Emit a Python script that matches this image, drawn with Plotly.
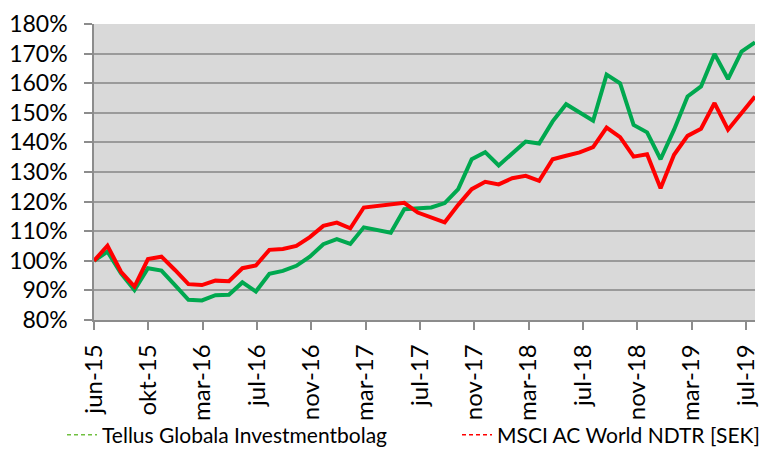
import plotly.graph_objects as go

# ---- data (index of monthly observation, value in %) ----
tellus = [100.0, 103.1, 95.8, 90.1, 97.5, 96.7, 91.8, 86.8, 86.6, 88.4,
          88.5, 92.7, 89.6, 95.6, 96.6, 98.3, 101.4, 105.6, 107.3, 105.7,
          111.3, 110.4, 109.5, 117.4, 117.6, 118.0, 119.5, 124.2, 134.3, 136.7,
          132.2, 136.4, 140.3, 139.6, 147.1, 152.9, 150.1, 147.3, 162.9, 160.0,
          145.9, 143.4, 134.3, 144.3, 155.5, 158.9, 169.9, 161.4, 170.7, 173.8]
msci = [100.0, 105.1, 96.3, 91.3, 100.6, 101.4, 96.9, 92.1, 91.8, 93.3,
        93.1, 97.5, 98.4, 103.7, 104.0, 105.0, 108.0, 111.8, 112.9, 111.0,
        118.0, 118.6, 119.1, 119.6, 116.3, 114.5, 113.0, 118.9, 124.2, 126.7,
        125.8, 127.9, 128.7, 127.0, 134.3, 135.5, 136.6, 138.4, 145.0, 141.8,
        135.2, 136.0, 124.5, 135.8, 142.2, 144.6, 153.3, 144.3, 149.9, 155.5]
tick_labels = ["jun-15", "okt-15", "mar-16", "jul-16", "nov-16", "mar-17", "jul-17",
               "nov-17", "mar-18", "jul-18", "nov-18", "mar-19", "jul-19"]
series_names = ["Tellus Globala Investmentbolag", "MSCI AC World NDTR [SEK]"]

x = list(range(len(tellus)))
TICK_STEP = 4.0274
tickvals = [k * TICK_STEP for k in range(len(tick_labels))]

FONT = "Lato, 'Open Sans', sans-serif"

fig = go.Figure()
fig.add_trace(go.Scatter(x=x, y=tellus, mode="lines", showlegend=False,
                         line=dict(color="#00a84f", width=4)))
fig.add_trace(go.Scatter(x=x, y=msci, mode="lines", showlegend=False,
                         line=dict(color="#ff0000", width=4)))
# legend entries (dashed thin symbols)
fig.add_trace(go.Scatter(x=[None], y=[None], mode="lines", name=series_names[0],
                         legend="legend",
                         line=dict(color="#70c040", width=1.5, dash="4px,3px")))
fig.add_trace(go.Scatter(x=[None], y=[None], mode="lines", name=series_names[1],
                         legend="legend2",
                         line=dict(color="#ff0000", width=1.5, dash="4px,3px")))

leg_common = dict(orientation="h", yanchor="top", y=-0.32, xanchor="left",
                  font=dict(size=21, family=FONT), itemwidth=30,
                  bgcolor="rgba(0,0,0,0)")

fig.update_layout(
    width=760, height=450,
    margin=dict(l=94, r=5, t=24, b=130, autoexpand=False),
    paper_bgcolor="white",
    plot_bgcolor="#d9d9d9",
    font=dict(family=FONT, color="#000000"),
    legend=dict(x=-0.0484, **leg_common),
    legend2=dict(x=0.5492, **leg_common),
)
fig.update_xaxes(
    range=[0, len(tellus) - 1], tickmode="array", tickvals=tickvals, ticktext=tick_labels,
    tickangle=-90, tickfont=dict(size=24, family=FONT), automargin=False,
    showgrid=False, zeroline=False, showline=True, linecolor="#8c8c8c", linewidth=1.5,
    ticks="outside", ticklen=8, tickcolor="#8c8c8c", tickwidth=1.5, ticklabelstandoff=5,
)
fig.update_yaxes(
    range=[80, 180], tickmode="linear", tick0=80, dtick=10, ticksuffix="%",
    tickfont=dict(size=23, family=FONT), automargin=False,
    showgrid=True, gridcolor="#9a9a9a", gridwidth=1.5, zeroline=False,
    showline=True, linecolor="#8c8c8c", linewidth=1.5,
    ticks="outside", ticklen=8, tickcolor="#8c8c8c", tickwidth=1.5, ticklabelstandoff=12,
)

fig.write_html("out.html", config={"displayModeBar": False},
               post_script="document.body.style.margin='0';document.body.style.overflow='hidden';")
